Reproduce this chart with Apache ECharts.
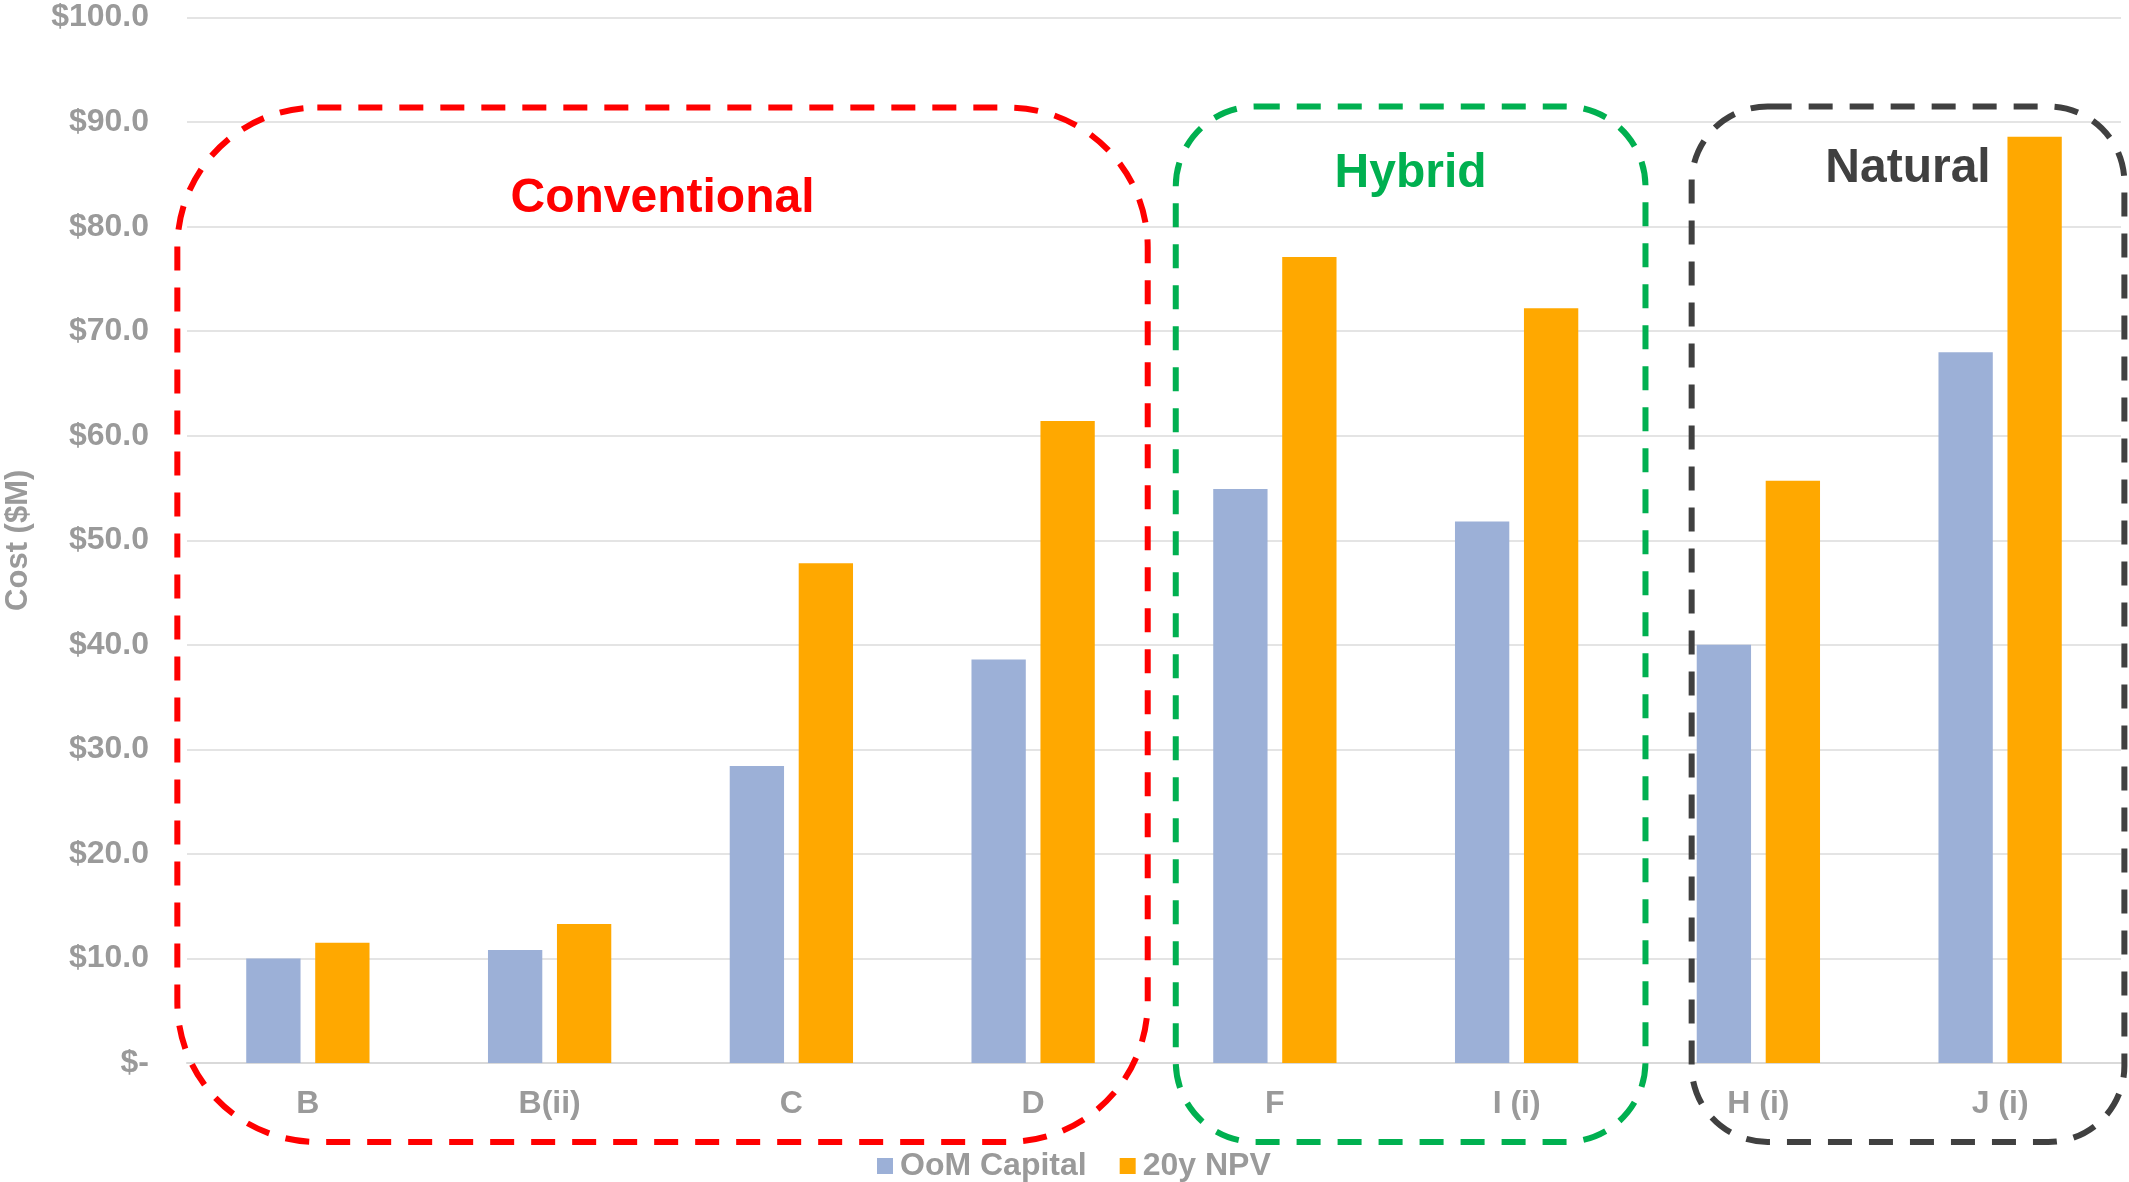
<!DOCTYPE html>
<html><head><meta charset="utf-8">
<script src="https://cdn.jsdelivr.net/npm/echarts@6/dist/echarts.min.js"></script>
<style>html,body{margin:0;padding:0;background:#fff}#c{width:2129px;height:1182px}</style>
</head><body><div id="c"></div>
<script>
// ---- data ----
const categories = ['B', 'B(ii)', 'C', 'D', 'F', 'I (i)', 'H (i)', 'J (i)'];
const seriesNames = ['OoM Capital', '20y NPV'];
const oomCapital = [10.0, 10.8, 28.4, 38.6, 54.9, 51.8, 40.0, 68.0];
const npv20y = [11.5, 13.3, 47.8, 61.4, 77.1, 72.2, 55.7, 88.6];
const yTicks = [0, 10, 20, 30, 40, 50, 60, 70, 80, 90, 100];
const groupNames = ['Conventional', 'Hybrid', 'Natural'];
const groupFrom = [0, 4, 6];
const groupTo = [3, 5, 7];

// ---- styles / layout ----
const FONT = '"Liberation Sans", Arial, sans-serif';
const GRAY = '#9a9a9a';
const groupStyle = [
  { color: '#ff0000', padL: -0.54, padR: 0.474, top: 91.4, bottom: -7.55, r: 140, titleY: 82.7, titleSize: 48 },
  { color: '#00b050', padL: -0.41, padR: 0.533, top: 91.5, bottom: -7.55, r: 80, titleY: 85.1, titleSize: 48 },
  { color: '#404040', padL: -0.276, padR: 0.514, top: 91.5, bottom: -7.55, r: 76, titleY: 85.5, titleSize: 48 }
];

const chart = echarts.init(document.getElementById('c'), null, { renderer: 'canvas' });
const option = {
  backgroundColor: '#fff',
  animation: false,
  textStyle: { fontFamily: FONT },
  grid: { left: 187, right: 8, top: 17.6, bottom: 119, containLabel: false, outerBoundsMode: 'none' },
  legend: {
    data: seriesNames,
    left: 872, top: 1145,
    itemWidth: 16, itemHeight: 16, itemGap: 33,
    icon: 'rect',
    textStyle: { fontFamily: FONT, fontSize: 32, fontWeight: 'bold', color: GRAY, padding: [0, 0, 0, 2] }
  },
  xAxis: {
    type: 'category',
    data: categories,
    axisLine: { show: true, lineStyle: { color: '#d9d9d9', width: 2 } },
    axisTick: { show: false },
    axisLabel: { color: GRAY, fontSize: 32, fontWeight: 'bold', fontFamily: FONT, margin: 25 }
  },
  yAxis: {
    type: 'value',
    min: yTicks[0], max: yTicks[yTicks.length - 1], interval: yTicks[1] - yTicks[0],
    name: 'Cost ($M)',
    nameLocation: 'middle', nameRotate: 90, nameGap: 153,
    nameTextStyle: { color: GRAY, fontSize: 31, fontWeight: 'bold', fontFamily: FONT },
    axisLine: { show: false }, axisTick: { show: false },
    splitLine: { lineStyle: { color: '#e4e4e4', width: 2 } },
    axisLabel: {
      color: GRAY, fontSize: 32, fontWeight: 'bold', fontFamily: FONT, margin: 38,
      formatter: v => v === 0 ? '$-' : '$' + v.toFixed(1)
    }
  },
  series: [
    { name: seriesNames[0], type: 'bar', data: oomCapital, itemStyle: { color: '#9cb0d7' },
      barCategoryGap: '49%', barGap: '27%' },
    { name: seriesNames[1], type: 'bar', data: npv20y, itemStyle: { color: '#ffa800' },
      barCategoryGap: '49%', barGap: '27%' }
  ]
};
chart.setOption(option);

// annotation boxes placed via axis scales
const px = (c, v) => chart.convertToPixel({ gridIndex: 0 }, [c, v]);
const bw = px(1, 0)[0] - px(0, 0)[0];
const elements = [];
groupNames.forEach((name, i) => {
  const s = groupStyle[i];
  const x0 = px(groupFrom[i], 0)[0] + s.padL * bw;
  const x1 = px(groupTo[i], 0)[0] + s.padR * bw;
  const y0 = px(0, s.top)[1];
  const y1 = px(0, s.bottom)[1];
  elements.push({
    type: 'rect', z: 100, silent: true,
    shape: { x: x0, y: y0, width: x1 - x0, height: y1 - y0, r: s.r },
    style: { fill: 'none', stroke: s.color, lineWidth: 6, lineDash: [24, 17] }
  });
  elements.push({
    type: 'text', z: 101, silent: true,
    x: (x0 + x1) / 2, y: px(0, s.titleY)[1],
    style: { text: name, fill: s.color, fontSize: s.titleSize, fontWeight: 'bold', fontFamily: FONT,
      align: 'center', verticalAlign: 'middle' }
  });
});
chart.setOption({ graphic: { elements } });
</script>
</body></html>
